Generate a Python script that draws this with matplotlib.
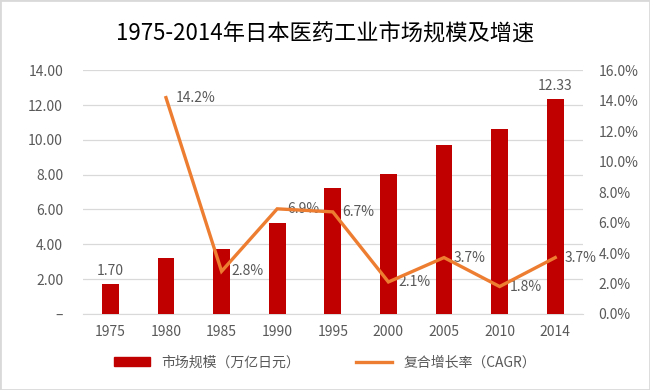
import matplotlib.pyplot as plt
import matplotlib.patches as patches
import numpy as np

plt.rcParams['font.family'] = ['Noto Sans CJK SC', 'DejaVu Sans']

# 数据
years = ['1975', '1980', '1985', '1990', '1995', '2000', '2005', '2010', '2014']
market = [1.70, 3.22, 3.72, 5.25, 7.25, 8.05, 9.70, 10.62, 12.33]   # 万亿日元
cagr = [None, 14.2, 2.8, 6.9, 6.7, 2.1, 3.7, 1.8, 3.7]               # %
bar_labels = {0: '1.70', 8: '12.33'}

RED = '#C00000'
ORANGE = '#ED7D31'
GREY = '#595959'

fig = plt.figure(figsize=(6.5, 3.9), dpi=100)
ax = fig.add_axes([0.127, 0.195, 0.77, 0.625])
ax2 = ax.twinx()

x = np.arange(len(years))
ax.bar(x, market, width=0.3, color=RED, zorder=3)
for i, t in bar_labels.items():
    ax.text(x[i], market[i] + 0.35, t, ha='center', va='bottom', fontsize=10, color=GREY)

ax.set_ylim(0, 14)
ax.set_yticks(np.arange(0, 15, 2))
ax.set_yticklabels(['–'] + ['%.2f' % v for v in np.arange(2, 15, 2)])
ax.set_xlim(-0.5, len(years) - 0.5)
ax.set_xticks(x)
ax.set_xticklabels(years)
ax.grid(axis='y', color='#d9d9d9', lw=0.9, zorder=0)
for s in ['top', 'left', 'right']:
    ax.spines[s].set_visible(False)
ax.spines['bottom'].set_color('#d9d9d9')
ax.tick_params(length=0, labelsize=10, labelcolor=GREY, pad=8)
ax.tick_params(axis='y', pad=14)

# 折线
lx = [xi for xi, v in zip(x, cagr) if v is not None]
ly = [v for v in cagr if v is not None]
ax2.plot(lx, ly, color=ORANGE, lw=2.4, zorder=4, solid_joinstyle='miter')
for xi, v in zip(lx, ly):
    ax2.annotate('%.1f%%' % v, (xi, v), xytext=(7, 0), textcoords='offset points',
                 ha='left', va='center', fontsize=10, color=GREY)
ax2.set_ylim(0, 16)
ax2.set_yticks(np.arange(0, 17, 2))
ax2.set_yticklabels(['%.1f%%' % v for v in np.arange(0, 17, 2)])
for s in ax2.spines.values():
    s.set_visible(False)
ax2.tick_params(length=0, labelsize=10, labelcolor=GREY, pad=11)
ax.set_zorder(ax2.get_zorder() - 1)
ax.patch.set_visible(False)

fig.text(0.5, 0.915, '1975-2014年日本医药工业市场规模及增速', ha='center', va='center',
         fontsize=16, color='black')

# 图例
h1 = patches.Patch(color=RED)
h2 = plt.Line2D([], [], color=ORANGE, lw=2.4)
fig.legend([h1, h2], ['市场规模（万亿日元）', '复合增长率（CAGR）'], loc='center',
           bbox_to_anchor=(0.5, 0.07), ncol=2, frameon=False, fontsize=10,
           labelcolor=GREY, handlelength=2.6, handleheight=0.6, columnspacing=4)

fig.patches.append(patches.Rectangle((0, 0), 1, 1, transform=fig.transFigure,
                                     fill=False, edgecolor='#d9d9d9', lw=2))

fig.savefig('out.png', dpi=100)
